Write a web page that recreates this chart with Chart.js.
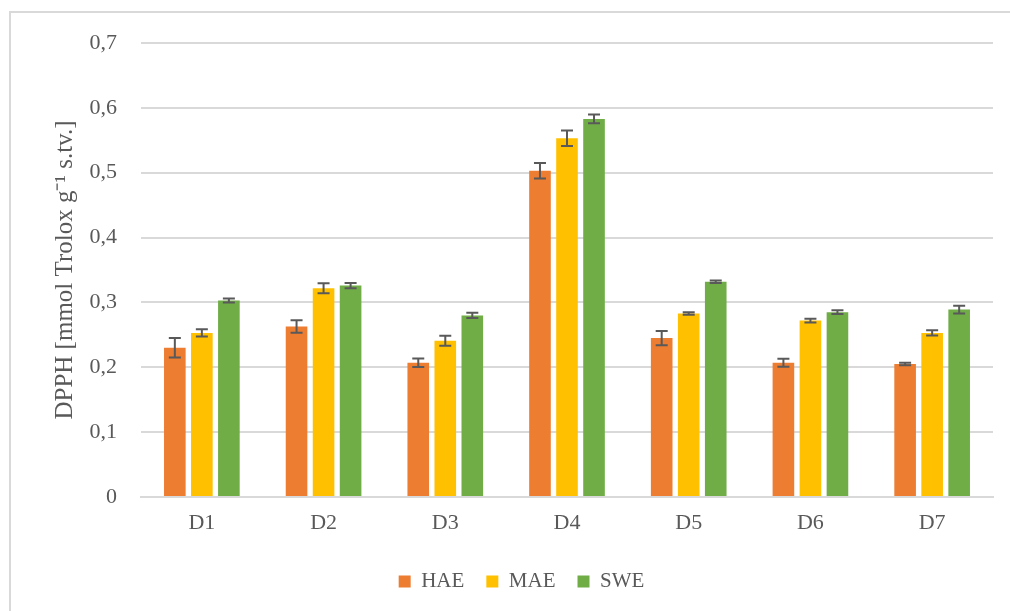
<!DOCTYPE html>
<html>
<head>
<meta charset="utf-8">
<script src="https://cdn.jsdelivr.net/npm/chart.js"></script>
<style>
  body { margin: 0; background: #fff; }
  #frame { position: absolute; left: 9px; top: 11px; width: 1001px; height: 600px;
           border-left: 2px solid #d9d9d9; border-top: 2px solid #d9d9d9; }
  #wrap { position: absolute; left: 0; top: 0; width: 1010px; height: 611px; }
</style>
</head>
<body>
<div id="frame"></div>
<div id="wrap">
  <canvas id="myChart" width="1010" height="611"></canvas>
</div>

<script>
const labels = ['D1', 'D2', 'D3', 'D4', 'D5', 'D6', 'D7'];
const haeValues = [0.230, 0.263, 0.207, 0.503, 0.245, 0.207, 0.205];
const maeValues = [0.253, 0.322, 0.241, 0.553, 0.283, 0.272, 0.253];
const sweValues = [0.303, 0.326, 0.280, 0.583, 0.332, 0.285, 0.289];
const haeErrors = [0.015, 0.0096, 0.0065, 0.012, 0.011, 0.006, 0.002];
const maeErrors = [0.0057, 0.0077, 0.0077, 0.012, 0.002, 0.003, 0.004];
const sweErrors = [0.003, 0.004, 0.004, 0.0067, 0.002, 0.003, 0.006];

const textColor = '#595959';
const fontFamily = '"Liberation Serif", "Times New Roman", serif';

// draws the error bars on top of every bar, through the y scale
const errorBars = {
  id: 'errorBars',
  afterDatasetsDraw(chart) {
    const ctx = chart.ctx;
    const y = chart.scales.y;
    ctx.save();
    ctx.strokeStyle = '#595959';
    ctx.lineWidth = 2;
    chart.data.datasets.forEach(function (ds, i) {
      const meta = chart.getDatasetMeta(i);
      meta.data.forEach(function (bar, j) {
        const v = ds.data[j];
        const e = ds.errors[j];
        const top = y.getPixelForValue(v + e);
        const bottom = y.getPixelForValue(v - e);
        ctx.beginPath();
        ctx.moveTo(bar.x, top);
        ctx.lineTo(bar.x, bottom);
        ctx.moveTo(bar.x - 6, top);
        ctx.lineTo(bar.x + 6, top);
        ctx.moveTo(bar.x - 6, bottom);
        ctx.lineTo(bar.x + 6, bottom);
        ctx.stroke();
      });
    });
    ctx.restore();
  }
};

const data = {
  labels: labels,
  datasets: [
    { label: 'HAE', data: haeValues, errors: haeErrors, backgroundColor: '#ED7D31' },
    { label: 'MAE', data: maeValues, errors: maeErrors, backgroundColor: '#FFC000' },
    { label: 'SWE', data: sweValues, errors: sweErrors, backgroundColor: '#70AD47' }
  ]
};

const config = {
  type: 'bar',
  data: data,
  plugins: [errorBars],
  options: {
    responsive: false,
    animation: false,
    devicePixelRatio: 1,
    categoryPercentage: 0.666,
    barPercentage: 0.8,
    layout: { padding: { left: 50, right: 17, top: 43, bottom: 9 } },
    plugins: {
      tooltip: { enabled: false },
      legend: {
        position: 'bottom',
        labels: {
          boxWidth: 12,
          boxHeight: 12,
          padding: 22,
          color: textColor,
          font: { family: fontFamily, size: 21 }
        }
      }
    },
    scales: {
      x: {
        grid: { display: false, drawTicks: false },
        border: { display: true, color: '#d9d9d9', width: 2 },
        ticks: { color: textColor, padding: 13, font: { family: fontFamily, size: 22 } },
        afterFit: function (scale) { scale.height = 52; }
      },
      y: {
        min: 0,
        max: 0.7,
        grid: { color: '#d9d9d9', lineWidth: 2, drawTicks: false },
        border: { display: false },
        ticks: {
          stepSize: 0.1,
          padding: 24,
          color: textColor,
          font: { family: fontFamily, size: 22 },
          callback: function (v) { return v === 0 ? '0' : v.toFixed(1).replace('.', ','); }
        },
        title: {
          display: true,
          text: 'DPPH [mmol Trolox g⁻¹ s.tv.]',
          color: textColor,
          padding: 0,
          font: { family: fontFamily, size: 25 }
        },
        afterFit: function (scale) { scale.width = 91; }
      }
    }
  }
};

var myChart = new Chart(document.getElementById('myChart'), config);
</script>
</body>
</html>
